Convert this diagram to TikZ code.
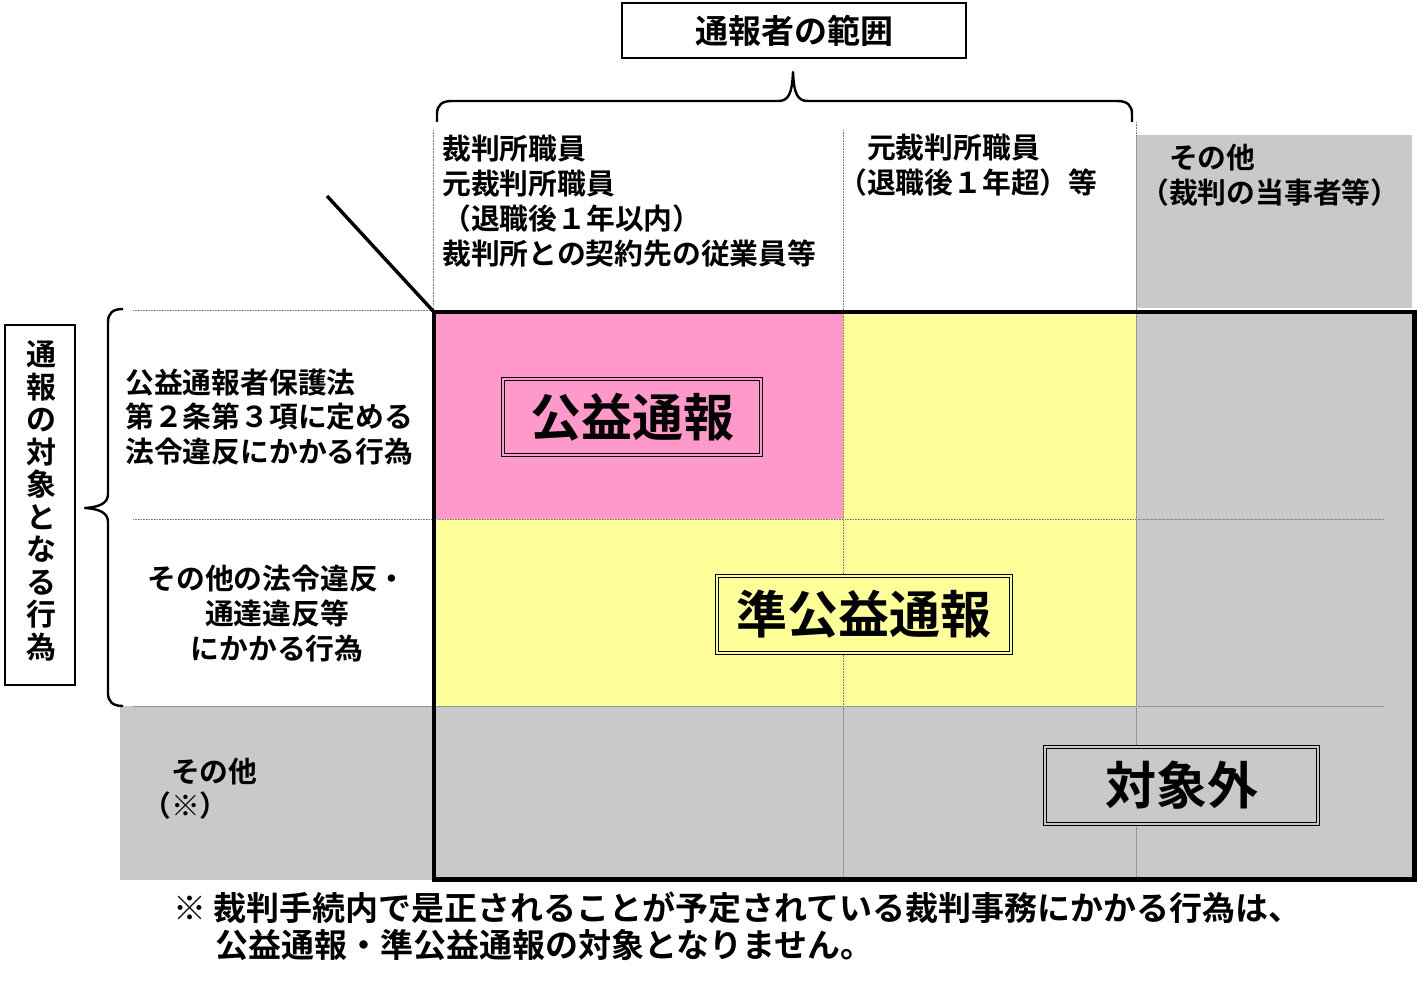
\documentclass[tikz,border=0pt]{standalone}
\usepackage{fontspec}
\setmainfont{Noto Sans CJK JP}[BoldFont={* Bold}]
\definecolor{pinkfill}{RGB}{255,153,204}
\definecolor{yelfill}{RGB}{255,255,153}
\definecolor{grayfill}{RGB}{201,201,201}
\definecolor{dotgray}{RGB}{120,120,120}
\tikzset{
  txt/.style={inner sep=0pt, align=left, anchor=base west, font=\bfseries\fontsize{28.8}{35}\selectfont},
  dotln/.style={draw=dotgray, line width=0.7pt, dash pattern=on 0.8pt off 0.8pt},
  bigbox/.style={draw=black, double=#1, double distance=2.4pt, line width=0.6pt, fill=#1,
     inner sep=0pt, font=\bfseries\fontsize{51}{51}\selectfont},
  framebox/.style={draw=black, line width=2pt, inner sep=0pt},
  bracestyle/.style={draw=black, line width=2.4pt, line join=round}
}
\begin{document}
\begin{tikzpicture}[x=1pt,y=-1pt]
\useasboundingbox (0,0) rectangle (1428,995);
% fills
\fill[grayfill] (1136,135) rectangle (1412,308);
\fill[grayfill] (1136,313) rectangle (1414,879);
\fill[grayfill] (120,706) rectangle (1136,880);
\fill[pinkfill] (434,313) rectangle (843,519);
\fill[yelfill] (843,313) rectangle (1136,706);
\fill[yelfill] (434,519) rectangle (843,706);
% dotted grid lines
\draw[dotln] (433,130) -- (433,312);
\draw[dotln] (843,130) -- (843,879);
\draw[dotln] (1136,122) -- (1136,879);
\draw[dotln] (133,310) -- (433,310);
\draw[dotln] (133,519) -- (1383,519);
\draw[dotln] (133,706) -- (1383,706);
% main frame
\draw[line width=4.5pt] (434,312) rectangle (1414.5,879.5);
\coordinate (corner) at (434,312);
\coordinate (diagstart) at (327,196);
\draw[line width=3.4pt] (diagstart) -- (corner);
% header
\node[framebox, minimum width=344pt, minimum height=55pt, font=\bfseries\fontsize{33}{33}\selectfont] (hdr) at (794,30.5) {通報者の範囲};
% top brace
\draw[bracestyle] (437,122) -- (437,114) .. controls (437,105) and (442,101) .. (452,101) -- (778,101)
  .. controls (788,101) and (792,95) .. (793,72) .. controls (794,95) and (798,101) .. (808,101)
  -- (1117,101) .. controls (1127,101) and (1132,105) .. (1132,114) -- (1132,122);
% left vertical label
\node[framebox, minimum width=70pt, minimum height=360pt] (vbox) at (40,505) {};
\node[inner sep=0pt, align=center, font=\bfseries\fontsize{30}{32.5}\selectfont] (vtxt) at (41,501)
  {通\\報\\の\\対\\象\\と\\な\\る\\行\\為};
% left brace
\draw[bracestyle] (123,309) .. controls (113,309) and (108,313) .. (108,322) -- (108,494)
  .. controls (108,503) and (100,507) .. (85,508) .. controls (100,509) and (108,513) .. (108,522)
  -- (108,693) .. controls (108,702) and (113,706) .. (123,706);
% column headers (anchor = baseline of last line)
\node[txt] (c1) at (442,265) {裁判所職員\\元裁判所職員\\（退職後１年以内）\\裁判所との契約先の従業員等};
\node[txt, font=\bfseries\fontsize{28.8}{34.5}\selectfont] (c2) at (838,193.5) {　元裁判所職員\\（退職後１年超）等};
\node[txt] (c3) at (1140,204) {　その他\\（裁判の当事者等）};
% row headers
\node[txt, font=\bfseries\fontsize{28.8}{34.5}\selectfont] (r1) at (125,462) {公益通報者保護法\\第２条第３項に定める\\法令違反にかかる行為};
\node[txt, align=center, anchor=base] (r2) at (277,659) {その他の法令違反・\\通達違反等\\にかかる行為};
\node[txt, font=\bfseries\fontsize{28.8}{34}\selectfont] (r3) at (142,816) {　その他\\（※）};
% category labels
\node[bigbox=pinkfill, minimum width=258pt, minimum height=76pt] (kouek) at (632,417) {公益通報};
\node[bigbox=yelfill, minimum width=294pt, minimum height=77pt] (junkoueki) at (864,614.5) {準公益通報};
\node[bigbox=grayfill, minimum width=273pt, minimum height=77pt] (taishogai) at (1181.5,785.5) {対象外};
% footnote
\node[txt, font=\bfseries\fontsize{33}{37}\selectfont] (fn1) at (173,920.5) {※ 裁判手続内で是正されることが予定されている裁判事務にかかる行為は、};
\node[txt, font=\bfseries\fontsize{33}{37}\selectfont] (fn2) at (215,957.5) {公益通報・準公益通報の対象となりません。};
\end{tikzpicture}
\end{document}
